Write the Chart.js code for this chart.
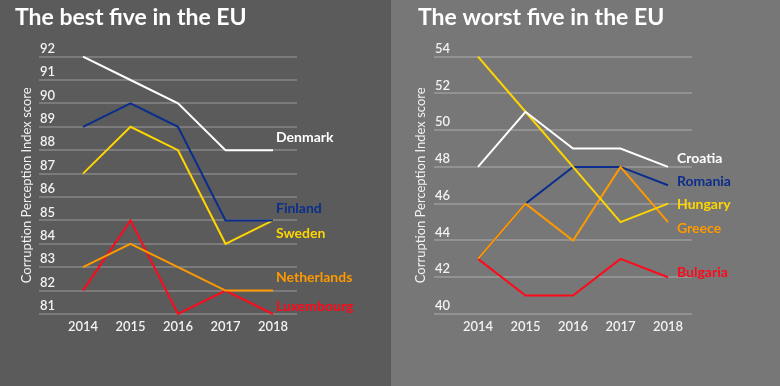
<!DOCTYPE html>
<html>
<head>
<meta charset="utf-8">
<script src="https://cdn.jsdelivr.net/npm/chart.js@4/dist/chart.umd.min.js"></script>
<style>
  html, body { margin: 0; padding: 0; }
  #wrap { display: flex; width: 780px; height: 386px; }
  #leftPanel { width: 391px; height: 386px; background: #5b5b5b; }
  #rightPanel { width: 389px; height: 386px; background: #777777; }
  canvas { display: block; }
</style>
</head>
<body>
<div id="wrap">
  <div id="leftPanel"><canvas id="chartBest" width="391" height="386"></canvas></div>
  <div id="rightPanel"><canvas id="chartWorst" width="389" height="386"></canvas></div>
</div>
<script>
const years = [2014, 2015, 2016, 2017, 2018];

const bestNames = ['Denmark', 'Finland', 'Sweden', 'Netherlands', 'Luxembourg'];
const denmark = [92, 91, 90, 88, 88];
const finland = [89, 90, 89, 85, 85];
const sweden = [87, 89, 88, 84, 85];
const netherlands = [83, 84, 83, 82, 82];
const luxembourg = [82, 85, 81, 82, 81];

const worstNames = ['Croatia', 'Romania', 'Hungary', 'Greece', 'Bulgaria'];
const croatia = [48, 51, 49, 49, 48];
const romania = [43, 46, 48, 48, 47];
const hungary = [54, 51, 48, 45, 46];
const greece = [43, 46, 44, 48, 45];
const bulgaria = [43, 41, 41, 43, 42];

const palette = {
  white: '#ffffff',
  blue: '#0b2d8c',
  yellow: '#ffd500',
  orange: '#ff9900',
  red: '#ff0a1a',
  text: '#f2f2f2',
  grid: 'rgba(255,255,255,0.2)',
};

const FONT = "Lato, 'Open Sans', sans-serif";

// names drawn next to the last point of each line
const endLabels = {
  id: 'endLabels',
  afterDatasetsDraw(chart, args, opts) {
    const ctx = chart.ctx;
    ctx.save();
    ctx.font = 'bold 14px ' + FONT;
    ctx.textBaseline = 'alphabetic';
    ctx.textAlign = 'left';
    chart.data.datasets.forEach((ds, i) => {
      const pts = chart.getDatasetMeta(i).data;
      const p = pts[pts.length - 1];
      ctx.fillStyle = ds.borderColor;
      ctx.fillText(ds.label, p.x + opts.dx, p.y + opts.dy[i]);
    });
    ctx.restore();
  },
};

function makeChart(id, cfg) {
  const datasets = cfg.names.map((name, i) => ({
    label: name,
    data: years.map((y, j) => ({ x: y, y: cfg.series[i][j] })),
    borderColor: cfg.colors[i],
    backgroundColor: cfg.colors[i],
    borderWidth: 2,
    pointRadius: 0,
    pointHoverRadius: 0,
    tension: 0,
    clip: false,
    order: cfg.order ? cfg.order[i] : i,
  }));

  return new Chart(document.getElementById(id), {
    type: 'line',
    data: { datasets },
    plugins: [endLabels],
    options: {
      responsive: false,
      animation: false,
      events: [],
      layout: { padding: { left: cfg.padLeft, right: cfg.padRight, top: 0, bottom: 0 } },
      plugins: {
        legend: { display: false },
        tooltip: { enabled: false },
        title: {
          display: true,
          text: cfg.title,
          align: 'start',
          color: '#ffffff',
          font: { family: FONT, size: 23, weight: 'bold' },
          padding: { top: 4, bottom: 25 },
        },
        endLabels: { dx: cfg.labelDx, dy: cfg.labelDy },
      },
      scales: {
        x: {
          type: 'linear',
          min: 2013.074,
          max: 2018.505,
          afterBuildTicks: (s) => { s.ticks = years.map((v) => ({ value: v })); },
          afterFit: (s) => { s.height = 72; },
          grid: { display: false, drawTicks: false },
          border: { display: false },
          ticks: {
            color: palette.text,
            padding: 5,
            font: { family: FONT, size: 13, weight: '600' },
            callback: (v) => String(v),
          },
        },
        y: {
          min: cfg.yMin,
          max: cfg.yMax,
          afterFit: (s) => { s.width = cfg.axisWidth; },
          grid: { color: palette.grid, lineWidth: 2, drawTicks: false },
          border: { display: false },
          ticks: {
            stepSize: cfg.yStep,
            mirror: true,
            padding: 1,
            labelOffset: -8,
            color: palette.text,
            font: { family: FONT, size: 13, weight: '600' },
          },
          title: {
            display: true,
            text: 'Corruption Perception Index score',
            color: palette.text,
            font: { family: FONT, size: 13 },
            padding: { top: cfg.yTitlePad, bottom: 0 },
          },
        },
      },
    },
  });
}

makeChart('chartBest', {
  title: 'The best five in the EU',
  names: bestNames,
  series: [denmark, finland, sweden, netherlands, luxembourg],
  colors: [palette.white, palette.blue, palette.yellow, palette.orange, palette.red],
  yMin: 81, yMax: 92, yStep: 1,
  padLeft: 15, padRight: 94, axisWidth: 24, yTitlePad: 4,
  labelDx: 3,
  labelDy: [-8, -7, 18, -9, -3],
});

makeChart('chartWorst', {
  title: 'The worst five in the EU',
  names: worstNames,
  series: [croatia, romania, hungary, greece, bulgaria],
  colors: [palette.white, palette.blue, palette.yellow, palette.orange, palette.red],
  order: [0, 3, 1, 2, 4],
  yMin: 40, yMax: 54, yStep: 2,
  padLeft: 27, padRight: 88, axisWidth: 16, yTitlePad: -5,
  labelDx: 9,
  labelDy: [-4, 1, 5, 11, 0],
});
</script>
</body>
</html>
